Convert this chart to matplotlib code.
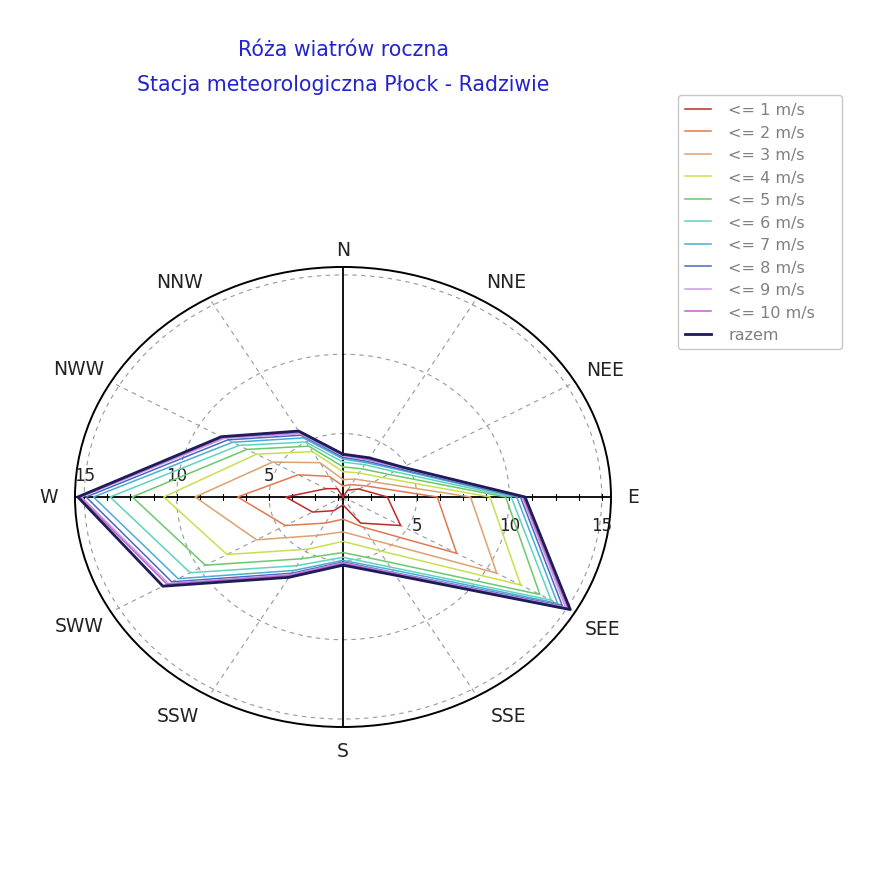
import numpy as np
import matplotlib.pyplot as plt

plt.rcParams['font.family'] = ['DejaVu Sans']

# 12 kierunkow, kat w stopniach (0 = E, przeciwnie do zegara)
directions = ['N', 'NNE', 'NEE', 'E', 'SEE', 'SSE', 'S', 'SSW', 'SWW', 'W', 'NWW', 'NNW']
angles_deg = [90, 60, 30, 0, -30, -60, -90, -120, -150, 180, 150, 120]

labels = ['<= 1 m/s', '<= 2 m/s', '<= 3 m/s', '<= 4 m/s', '<= 5 m/s', '<= 6 m/s',
          '<= 7 m/s', '<= 8 m/s', '<= 9 m/s', '<= 10 m/s', 'razem']
colors = ['#c02828', '#e07850', '#e0a070', '#c8e050', '#6cc86c', '#5cd4c0',
          '#48acd4', '#4a68c0', '#c89ce4', '#c060c8', '#1c1c58']

# wartosci (skumulowane) dla kazdego kierunku, kolejnosc jak w directions
v1 = [1.0, 1.5, 2.0, 3.4, 4.6, 2.9, 1.5, 2.0, 2.9, 4.1, 2.05, 1.6]
v2 = [1.7, 1.9, 2.4, 6.1, 8.1, 3.2, 2.4, 2.9, 4.6, 6.7, 3.8, 2.5]
v3 = [2.1, 2.3, 2.9, 7.9, 10.6, 4.1, 3.2, 3.8, 6.4, 9.0, 5.4, 3.5]
v4 = [2.6, 2.75, 3.45, 8.95, 12.1, 4.9, 3.8, 4.8, 8.25, 10.7, 6.4, 4.3]
v5 = [2.9, 3.05, 3.85, 9.8, 13.3, 5.7, 4.5, 5.5, 9.6, 12.4, 7.0, 4.7]
v6 = [3.2, 3.35, 4.2, 10.1, 14.0, 6.1, 4.8, 6.0, 10.55, 13.6, 7.5, 5.0]
v7 = [3.4, 3.5, 4.45, 10.4, 14.4, 6.3, 5.0, 6.35, 11.3, 14.5, 7.9, 5.3]
v8 = [3.5, 3.6, 4.55, 10.6, 14.7, 6.5, 5.1, 6.55, 11.7, 14.9, 8.2, 5.5]
v9 = [3.6, 3.7, 4.65, 10.7, 14.9, 6.55, 5.15, 6.65, 11.9, 15.15, 8.4, 5.6]
v10 = [3.65, 3.75, 4.7, 10.75, 15.05, 6.6, 5.2, 6.72, 12.0, 15.25, 8.5, 5.7]
razem = [3.7, 3.85, 4.75, 10.85, 15.2, 6.7, 5.3, 6.85, 12.25, 15.35, 8.6, 5.8]
series = [v1, v2, v3, v4, v5, v6, v7, v8, v9, v10, razem]

r_min, r_max = 1.0, 15.5
rings = [5, 10, 15]
ring_labels = ['5', '10', '15']

fig = plt.figure(figsize=(8.69, 8.95), dpi=100)
ax = fig.add_axes([0.0863, 0.1866, 0.6168, 0.514], projection='polar')
ax.set_aspect('auto')
ax.set_ylim(r_min, r_max)
ax.set_xticks([])
ax.set_yticks([])
ax.grid(False)
ax.spines['polar'].set_linewidth(1.4)

theta = np.deg2rad(angles_deg + angles_deg[:1])

# siatka: przerywane okregi i promienie
grid_style = dict(color='#999999', ls=(0, (4, 4)), lw=0.8, zorder=1)
dense = np.linspace(0, 2 * np.pi, 361)
for r in rings:
    ax.plot(dense, np.full_like(dense, r), **grid_style)
for a in [30, 60, 120, 150, 210, 240, 300, 330]:
    ax.plot([np.deg2rad(a)] * 2, [r_min, r_max], **grid_style)

# osie glowne
for a in [0, 90, 180, 270]:
    ax.plot([np.deg2rad(a)] * 2, [r_min, r_max], color='black', lw=1.3, zorder=3)

# male znaczniki na osi E-W
tick_r = np.arange(1.25, 15.01, 1.25)
for a in [0, 180]:
    ax.plot(np.full(len(tick_r), np.deg2rad(a)), tick_r, ls='none', marker='|',
            ms=4, mew=0.8, color='black', zorder=3)

lines = []
for vals, lab, col in zip(series, labels, colors):
    lw = 2.0 if lab == 'razem' else 1.1
    ln, = ax.plot(theta, vals + vals[:1], color=col, lw=lw, label=lab, zorder=4)
    lines.append(ln)

# etykiety kierunkow (polozenie etykiety: kat, promien)
label_pos = {'N': (90, 16.6), 'NNE': (57, 17.2), 'NEE': (29.5, 17.3), 'E': (0, 16.7),
             'SEE': (-30.5, 17.3), 'SSE': (-57, 17.4), 'S': (-90, 17.0), 'SSW': (-123, 17.4),
             'SWW': (-150.5, 17.4), 'W': (180, 16.95), 'NWW': (150.5, 17.4), 'NNW': (123, 17.2)}
for d in directions:
    a, rr = label_pos[d]
    ax.text(np.deg2rad(a), rr, d, ha='center', va='center', fontsize=13.5, color='#222222')

# etykiety promienia
for r, t in zip(rings, ring_labels):
    ax.annotate(t, xy=(np.pi, r), xytext=(0, 16), textcoords='offset points',
                ha='center', va='center', fontsize=12, color='#222222')
    ax.annotate(t, xy=(0, r), xytext=(0, -20), textcoords='offset points',
                ha='center', va='center', fontsize=12, color='#222222')

fig.text(0.395, 1 - 50 / 895, 'Róża wiatrów roczna', ha='center', va='center',
         fontsize=14.8, color='#2424cc')
fig.text(0.395, 1 - 85 / 895, 'Stacja meteorologiczna Płock - Radziwie', ha='center',
         va='center', fontsize=14.8, color='#2424cc')

leg = fig.legend(handles=lines, loc='upper left',
                 bbox_to_anchor=(0.7802, 0.6089, 0.1887, 0.2838),
                 bbox_transform=fig.transFigure, mode='expand', borderaxespad=0,
                 fontsize=11.5, labelcolor='#808080', handlelength=1.6,
                 labelspacing=0.47, frameon=True, fancybox=True, edgecolor='#c8c8c8',
                 framealpha=1, borderpad=0.45, handletextpad=1.1)

fig.savefig('out.png', dpi=100)
